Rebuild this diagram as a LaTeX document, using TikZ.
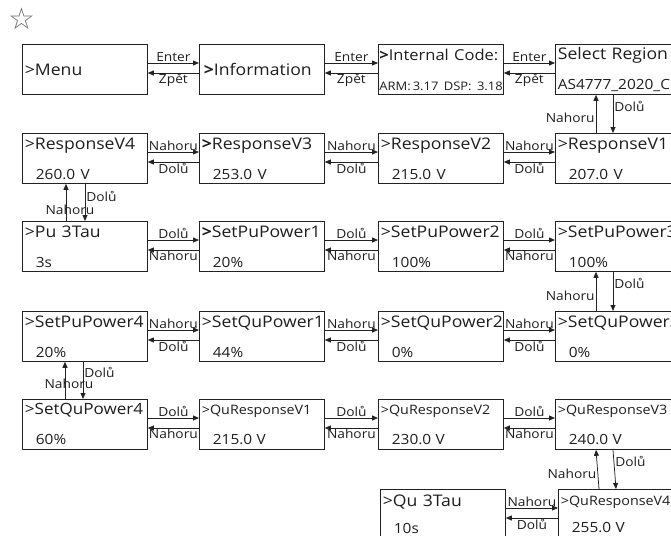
\documentclass[tikz,border=0pt]{standalone}
\usepackage{fontspec}
\setmainfont[FakeStretch=1.1]{Open Sans}
\newfontfamily\symbolfont{DejaVu Sans}
\usetikzlibrary{arrows.meta,positioning}
\definecolor{MenuInk}{HTML}{1E1E1E}
\definecolor{MenuLine}{HTML}{222222}
\definecolor{MenuStar}{HTML}{6E6E6E}
\tikzset{
  screen/.style={draw=MenuLine,line width=0.8pt,anchor=north west,
                 minimum height=50pt,text width=120pt,inner xsep=2.5pt,inner ysep=1pt,
                 align=left,text=MenuInk,font=\fontsize{16}{30}\selectfont},
  navarrow/.style={-{Triangle[length=6pt,width=5pt]},MenuLine,line width=0.75pt},
  navlabel/.style={text=MenuInk,font=\fontsize{12.5}{14}\selectfont,inner sep=1pt},
}
% second line of a screen
\newcommand{\val}[1]{\\\hspace*{11pt}{\fontsize{14}{17}\selectfont #1}}
% pair of arrows between two screens in one row
\newcommand{\hlinks}[4]{%
  \draw[navarrow] ([yshift=-19pt]#1.north east) -- node[navlabel,above] {#3} ([yshift=-19pt]#2.north west);
  \draw[navarrow] ([yshift=-29pt]#2.north west) -- node[navlabel,below] {#4} ([yshift=-29pt]#1.north east);%
}
% pair of arrows between two screens in the right column
\newcommand{\vlinks}[2]{%
  \draw[navarrow] ([xshift=41pt]#2.north west) -- node[navlabel,left,pos=.4] {Nahoru} ([xshift=41pt]#1.south west);
  \draw[navarrow] ([xshift=58pt]#1.south west) -- node[navlabel,right,pos=.3] {Dolů} ([xshift=58pt]#2.north west);%
}

\begin{document}
\begin{tikzpicture}[x=1pt,y=-1pt]
  \useasboundingbox (0,0) rectangle (671,535);
  \clip (0,0) rectangle (671,535);

  \node[text=MenuStar,font=\symbolfont\fontsize{30}{30}\selectfont,inner sep=0pt] (star) at (22,19) {☆};

  % information
  \node[screen] (menu) at (22,44) {>Menu};
  \node[screen,text width=116pt,inner xsep=4.5pt] (info) at (199,44) {\textbf{>}Information};
  \node[screen,inner xsep=1pt,text width=123pt] (code) at (378,44)
    {\mbox{\fontsize{15}{30}\selectfont\textbf{>}Internal Code:}\\\mbox{\fontsize{11.8}{13}\selectfont ARM:\,3.17 DSP: 3.18}};
  \node[screen] (region) at (555,44) {Select Region\\{\fontsize{14}{17}\selectfont AS4777\_2020\_C}};

  % response voltages
  \node[screen] (rv4) at (22,133) {>ResponseV4\val{260.0 V}};
  \node[screen] (rv3) at (199,133) {\textbf{>}ResponseV3\val{253.0 V}};
  \node[screen] (rv2) at (378,133) {>ResponseV2\val{215.0 V}};
  \node[screen] (rv1) at (555,133) {>ResponseV1\val{207.0 V}};

  % p(u)
  \node[screen] (putau) at (22,221) {>Pu 3Tau\val{3s}};
  \node[screen] (pp1) at (199,221) {\textbf{>}SetPuPower1\val{20\%}};
  \node[screen] (pp2) at (378,221) {>SetPuPower2\val{100\%}};
  \node[screen] (pp3) at (555,221) {>SetPuPower3\val{100\%}};

  % q(u)
  \node[screen] (pp4) at (22,311) {>SetPuPower4\val{20\%}};
  \node[screen] (qp1) at (199,311) {>SetQuPower1\val{44\%}};
  \node[screen] (qp2) at (378,311) {>SetQuPower2\val{0\%}};
  \node[screen] (qp3) at (555,311) {>SetQuPower3\val{0\%}};

  \node[screen,font=\fontsize{15.5}{30}\selectfont] (qp4) at (22,399) {>SetQuPower4\val{60\%}};
  \node[screen,font=\fontsize{13}{30}\selectfont] (qrv1) at (199,399) {>QuResponseV1\val{215.0 V}};
  \node[screen,font=\fontsize{13}{30}\selectfont] (qrv2) at (378,399) {>QuResponseV2\val{230.0 V}};
  \node[screen,font=\fontsize{13}{30}\selectfont] (qrv3) at (555,399) {>QuResponseV3\val{240.0 V}};

  \node[screen,font=\fontsize{16}{27}\selectfont] (qutau) at (380,489) {>Qu 3Tau\val{10s}};
  \node[screen,font=\fontsize{13}{27}\selectfont] (qrv4) at (558,489) {>QuResponseV4\val{255.0 V}};

  \hlinks{menu}{info}{Enter}{Zpět}
  \hlinks{info}{code}{Enter}{Zpět}
  \hlinks{code}{region}{Enter}{Zpět}
  \vlinks{region}{rv1}

  \hlinks{rv4}{rv3}{Nahoru}{Dolů}
  \hlinks{rv3}{rv2}{Nahoru}{Dolů}
  \hlinks{rv2}{rv1}{Nahoru}{Dolů}

  \draw[navarrow] ([xshift=44pt]putau.north west) -- node[navlabel,pos=.3,xshift=4pt] {Nahoru} ([xshift=44pt]rv4.south west);
  \draw[navarrow] ([xshift=63pt]rv4.south west) -- node[navlabel,right,pos=.33] {Dolů} ([xshift=63pt]putau.north west);

  \hlinks{putau}{pp1}{Dolů}{Nahoru}
  \hlinks{pp1}{pp2}{Dolů}{Nahoru}
  \hlinks{pp2}{pp3}{Dolů}{Nahoru}
  \vlinks{pp3}{qp3}

  \hlinks{pp4}{qp1}{Nahoru}{Dolů}
  \hlinks{qp1}{qp2}{Nahoru}{Dolů}
  \hlinks{qp2}{qp3}{Nahoru}{Dolů}

  \draw[navarrow] ([xshift=43pt]qp4.north west) -- node[navlabel,pos=.4,xshift=4pt] {Nahoru} ([xshift=43pt]pp4.south west);
  \draw[navarrow] ([xshift=61pt]pp4.south west) -- node[navlabel,right,pos=.3] {Dolů} ([xshift=61pt]qp4.north west);

  \hlinks{qp4}{qrv1}{Dolů}{Nahoru}
  \hlinks{qrv1}{qrv2}{Dolů}{Nahoru}
  \hlinks{qrv2}{qrv3}{Dolů}{Nahoru}
  \vlinks{qrv3}{qrv4}

  \hlinks{qutau}{qrv4}{Nahoru}{Dolů}
\end{tikzpicture}
\end{document}
